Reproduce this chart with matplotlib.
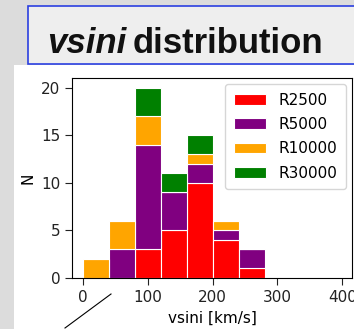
import matplotlib
matplotlib.use("Agg")
import matplotlib.pyplot as plt
from matplotlib.patches import Rectangle
from matplotlib.lines import Line2D
import numpy as np

# Data
bin_edges = [0, 40, 80, 120, 160, 200, 240, 280]
series_names = ["R2500", "R5000", "R10000", "R30000"]
colors = ["red", "purple", "orange", "green"]
r2500 = [0, 0, 3, 5, 10, 4, 1]
r5000 = [0, 3, 11, 4, 2, 1, 2]
r10000 = [2, 3, 3, 0, 1, 1, 0]
r30000 = [0, 0, 3, 2, 2, 0, 0]
x_ticks = [0, 100, 200, 300, 400]
y_ticks = [0, 5, 10, 15, 20]

W, H = 354, 329
fig = plt.figure(figsize=(W / 100, H / 100), dpi=100)
fig.patch.set_facecolor("#dcdcdc")

def fx(px):
    return px / W

def fy(py):
    return 1 - py / H

# white content area
fig.patches.append(Rectangle((fx(14), 0), fx(W) - fx(14), fy(65), transform=fig.transFigure,
                             facecolor="white", edgecolor="none", zorder=-2))
# title box
fig.patches.append(Rectangle((fx(28), fy(64)), fx(400) - fx(28), fy(6) - fy(64),
                             transform=fig.transFigure, facecolor="#eeeeee",
                             edgecolor="#2b3fe0", linewidth=1.2, zorder=-1))

t1 = fig.text(fx(47), fy(53), "vsini", fontsize=25, fontweight="bold", fontstyle="italic",
              family="Liberation Sans", va="baseline", ha="left", color="#111111")
fig.canvas.draw()
bb = t1.get_window_extent(renderer=fig.canvas.get_renderer())
fig.text(bb.x1 / W + fx(6), fy(53), "distribution", fontsize=25, fontweight="bold",
         family="Liberation Sans", va="baseline", ha="left", color="#111111")

ax = fig.add_axes([fx(72), fy(278), fx(352) - fx(72), fy(78) - fy(278)])
ax.set_zorder(2)
data = [r2500, r5000, r10000, r30000]
centers = [(bin_edges[i] + bin_edges[i + 1]) / 2 for i in range(len(bin_edges) - 1)]
bottom = np.zeros(len(centers))
for vals, name, c in zip(data, series_names, colors):
    ax.bar(centers, vals, width=40, bottom=bottom, color=c, edgecolor="white",
           linewidth=0.8, label=name)
    bottom += np.array(vals)

ax.set_xlim(-17, 415)
ax.set_ylim(0, 21)
ax.set_xticks(x_ticks)
ax.set_yticks(y_ticks)
ax.tick_params(labelsize=11, length=5, colors="#222222")
ax.set_xlabel("vsini [km/s]", fontsize=11, labelpad=4)
ax.set_ylabel("N", fontsize=11)
ax.legend(loc="upper right", fontsize=11, handlelength=2.15, borderpad=0.55,
          labelspacing=0.62, borderaxespad=0.4)

fig.lines.append(Line2D([fx(65), fx(111)], [fy(328), fy(294)], transform=fig.transFigure,
                        color="black", linewidth=0.8, zorder=3))

fig.savefig("out.png", dpi=100, facecolor=fig.get_facecolor())
